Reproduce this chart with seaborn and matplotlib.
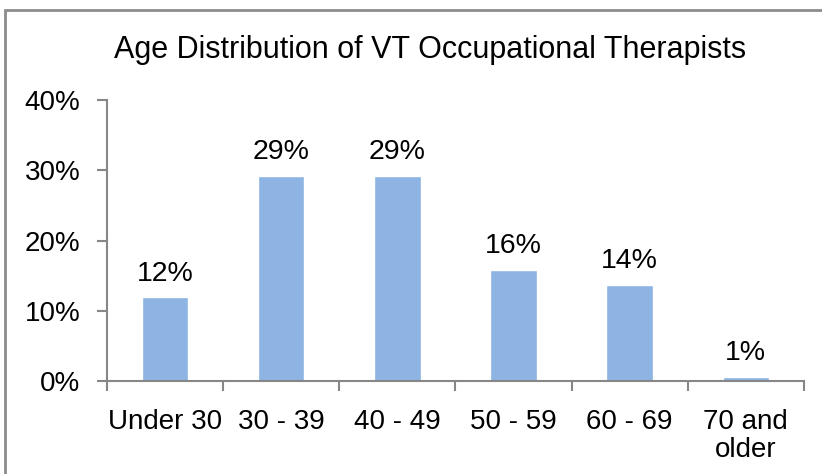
import matplotlib
matplotlib.use("Agg")
import matplotlib.pyplot as plt
import matplotlib.patches as mpatches
import pandas as pd
import seaborn as sns
from matplotlib.ticker import FuncFormatter

# Datos
categories = ["Under 30", "30 - 39", "40 - 49", "50 - 59", "60 - 69", "70 and\nolder"]
shares = [11.9, 29.2, 29.2, 15.8, 13.7, 0.6]
labels = ["12%", "29%", "29%", "16%", "14%", "1%"]

df = pd.DataFrame({"Age": categories, "Share": shares})

sns.set_style("white")
plt.rcParams["font.family"] = ["Liberation Sans", "DejaVu Sans"]
plt.rcParams["text.color"] = "black"
plt.rcParams["xtick.color"] = "black"
plt.rcParams["ytick.color"] = "black"

fig = plt.figure(figsize=(8.22, 4.74), dpi=100)
ax = fig.add_axes([0.130, 0.196, 0.848, 0.593])

sns.barplot(data=df, x="Age", y="Share", color="#8DB4E2", width=0.4,
            saturation=1, ax=ax)

# etiquetas de valor
for i, (v, lab) in enumerate(zip(shares, labels)):
    ax.text(i, v + 2.4, lab, ha="center", va="baseline", fontsize=20.5, color="black")

ax.set_ylim(0, 40)
ax.set_yticks([0, 10, 20, 30, 40])
ax.yaxis.set_major_formatter(FuncFormatter(lambda y, _: f"{y:.0f}%"))
ax.set_xlim(-0.5, len(categories) - 0.5)
ax.set_xlabel("")
ax.set_ylabel("")

gray = "#878787"
for side in ["top", "right"]:
    ax.spines[side].set_visible(False)
for side in ["left", "bottom"]:
    ax.spines[side].set_color(gray)
    ax.spines[side].set_linewidth(1.5)

ax.tick_params(axis="y", length=7, width=1.5, color=gray, labelcolor="black",
               labelsize=20, pad=12, left=True)
# ticks del eje x entre categorias
ax.set_xticks([i - 0.5 for i in range(len(categories) + 1)], minor=True)
ax.tick_params(axis="x", which="minor", length=7, width=1.5, color=gray, bottom=True)
ax.tick_params(axis="x", which="major", length=0, labelcolor="black",
               labelsize=20, pad=20)
for t in ax.get_xticklabels():
    t.set_linespacing(1.1)

fig.text(430 / 822, 1 - 50 / 474, "Age Distribution of VT Occupational Therapists",
         ha="center", va="center", fontsize=22, color="black",
         family=["Liberation Sans Narrow", "Liberation Sans", "DejaVu Sans"])

# marco del area del grafico
frame = mpatches.Rectangle((5 / 822, -0.1), 1.2, 1 - 10 / 474 + 0.1,
                           transform=fig.transFigure, fill=False,
                           edgecolor="#8c8c8c", linewidth=2, clip_on=False)
fig.patches.append(frame)

fig.savefig("out.png", dpi=100)
